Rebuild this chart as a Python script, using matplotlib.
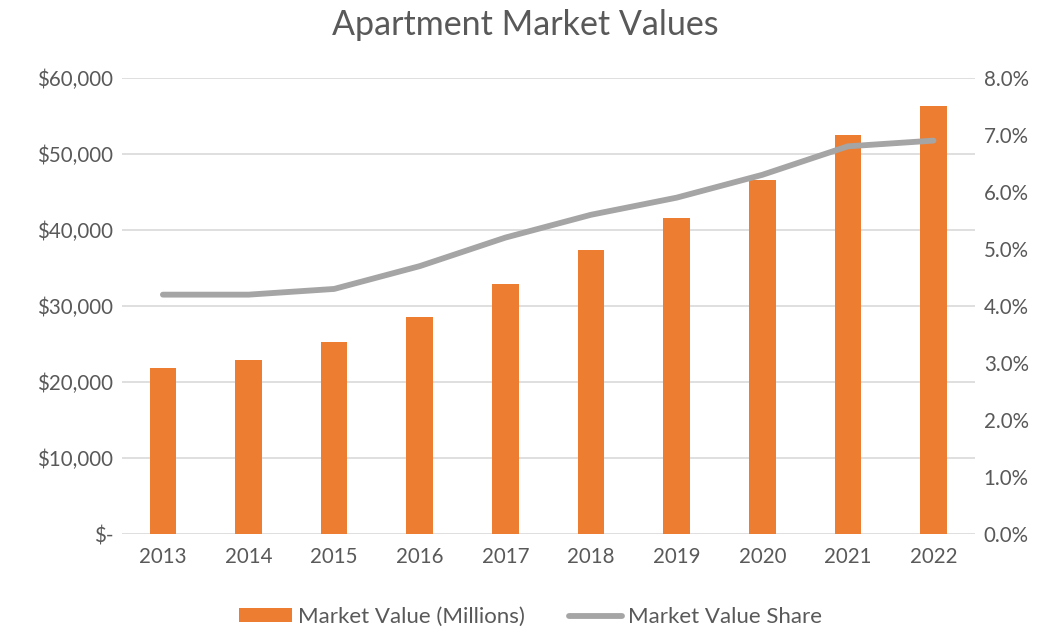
import matplotlib
matplotlib.use("Agg")
import matplotlib.pyplot as plt
from matplotlib.ticker import FuncFormatter

years = ["2013", "2014", "2015", "2016", "2017", "2018", "2019", "2020", "2021", "2022"]
market_value = [21800, 22900, 25300, 28600, 32900, 37400, 41600, 46600, 52500, 56300]
market_share = [4.2, 4.2, 4.3, 4.7, 5.2, 5.6, 5.9, 6.3, 6.8, 6.9]

plt.rcParams['font.family'] = ['Lato', 'DejaVu Sans']
txt = '#595959'

fig = plt.figure(figsize=(10.5, 6.33), dpi=100)
ax = fig.add_axes([0.116, 0.156, 0.813, 0.721])
ax2 = ax.twinx()

x = list(range(len(years)))
bars = ax.bar(x, market_value, width=0.31, color='#ED7D31', zorder=3, label='Market Value (Millions)')
line, = ax2.plot(x, market_share, color='#A5A5A5', lw=4.2, solid_capstyle='round', solid_joinstyle='round', zorder=4, label='Market Value Share')

ax.set_xlim(-0.48, 9.49)
ax.set_ylim(0, 60000)
ax2.set_ylim(0, 8)
ax.set_yticks(range(0, 60001, 10000))
ax2.set_yticks([i for i in range(0, 9)])

def dollars(v, p):
    return '$-' if v == 0 else f'${int(v):,}'
ax.yaxis.set_major_formatter(FuncFormatter(dollars))
ax2.yaxis.set_major_formatter(FuncFormatter(lambda v, p: f'{v:.1f}%'))
ax.set_xticks(x)
ax.set_xticklabels(years)

ax.grid(axis='y', color='#d9d9d9', lw=1.2, zorder=0)
ax.set_axisbelow(True)
for a in (ax, ax2):
    for s in a.spines.values():
        s.set_visible(False)
    a.tick_params(length=0, labelsize=14.8, colors=txt)
ax.tick_params(axis='x', pad=9)
ax.tick_params(axis='y', pad=6)
ax2.tick_params(axis='y', pad=6)

fig.suptitle('Apartment Market Values', x=0.5, y=0.985, fontsize=24.5, color=txt)

fig.legend([bars, line], ['Market Value (Millions)', 'Market Value Share'],
           loc='center', bbox_to_anchor=(0.505, 0.025), ncol=2, frameon=False,
           fontsize=16, labelcolor=txt, handlelength=2.4, handleheight=0.6,
           handletextpad=0.25, columnspacing=2.0)

fig.savefig('out.png', dpi=100, facecolor='white')
